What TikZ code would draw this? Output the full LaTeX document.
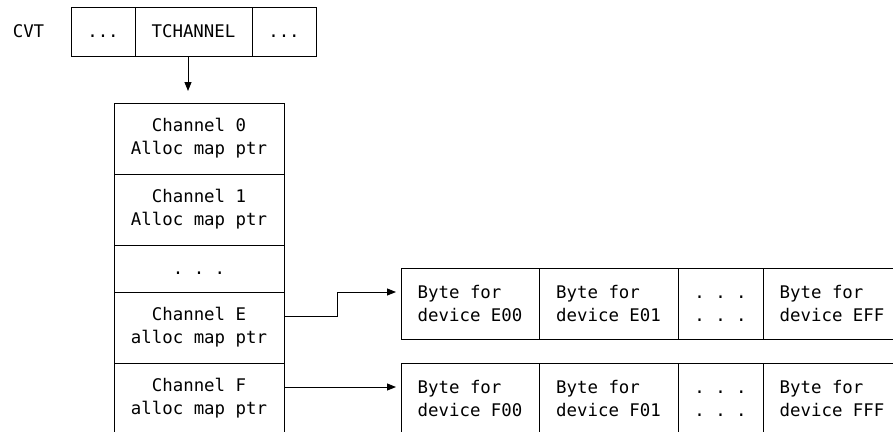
\documentclass[tikz,border=0pt]{standalone}
\usepackage{fontspec}
\setmonofont{DejaVu Sans Mono}
\usetikzlibrary{arrows.meta}

\begin{document}
\begin{tikzpicture}[x=1pt,y=-1pt,
    every node/.style={font=\ttfamily\fontsize{17.4}{23}\selectfont},
    cell/.style={draw,line width=0.9pt,minimum height=49pt,inner sep=0pt,outer sep=0pt},
    chan/.style={draw,line width=0.9pt,minimum width=170pt,minimum height=71pt,inner sep=0pt,outer sep=0pt,align=center},
    byte/.style={draw,line width=0.9pt,minimum height=71pt,inner sep=0pt,outer sep=0pt,align=left},
    arr/.style={line width=0.9pt,-{Triangle[length=9pt,width=7pt]}}]
    \useasboundingbox (0,0) rectangle (893,431);
    % CVT row
    \node (cvt) at (28.5,31.5) {CVT};
    \node[cell,minimum width=64pt] (cvta) at (103,31.5) {\vphantom{T}...};
    \node[cell,minimum width=117pt] (tch) at (193.5,31.5) {TCHANNEL};
    \node[cell,minimum width=64pt] (cvtb) at (284,31.5) {\vphantom{T}...};
    % channel table
    \node[chan] (ch0) at (199,138.5) {Channel 0\\Alloc map ptr};
    \node[chan] (ch1) at (199,209.5) {Channel 1\\Alloc map ptr};
    \node[chan,minimum height=47pt] (chd) at (199,268.5) {\vphantom{C}. . .};
    \node[chan] (chE) at (199,327.5) {Channel E\\alloc map ptr};
    \node[chan] (chF) at (199,398.5) {Channel F\\alloc map ptr};
    % allocation maps
    \node[byte,minimum width=138pt] (e0) at (470,303.5) {Byte for\\device E00};
    \node[byte,minimum width=139pt] (e1) at (608.5,303.5) {Byte for\\device E01};
    \node[byte,minimum width=85pt] (e2) at (720.5,303.5) {\vphantom{B}. . .\\. . .\vphantom{d}};
    \node[byte,minimum width=138pt] (e3) at (832,303.5) {Byte for\\device EFF};
    \node[byte,minimum width=138pt] (f0) at (470,398.5) {Byte for\\device F00};
    \node[byte,minimum width=139pt] (f1) at (608.5,398.5) {Byte for\\device F01};
    \node[byte,minimum width=85pt] (f2) at (720.5,398.5) {\vphantom{B}. . .\\. . .\vphantom{d}};
    \node[byte,minimum width=138pt] (f3) at (832,398.5) {Byte for\\device FFF};
    % pointers
    \coordinate (tout) at ([xshift=-5.5pt]tch.south);
    \draw[arr,shorten >=12pt] (tout) -- (tout |- ch0.north);
    \coordinate (eout) at ([yshift=11.5pt]chE.east);
    \coordinate (ein) at ([yshift=11.5pt]e0.west);
    \draw[arr,shorten >=5pt] (eout) -- ++(53,0) |- (ein);
    \draw[arr,shorten >=5pt] ([yshift=11.5pt]chF.east) -- ([yshift=11.5pt]f0.west);
\end{tikzpicture}
\end{document}
